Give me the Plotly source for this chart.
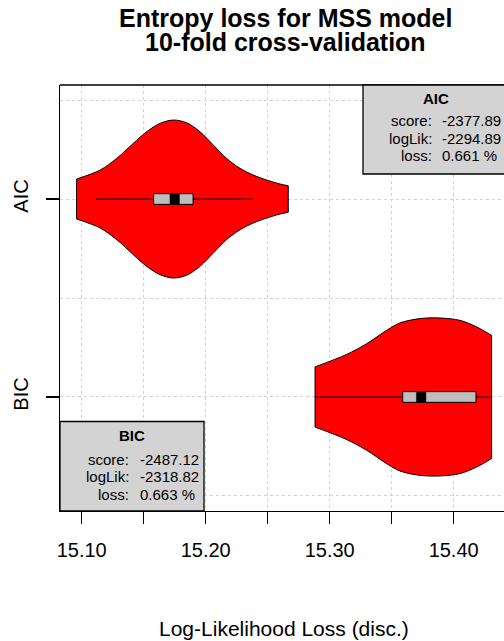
import plotly.graph_objects as go

# ---------------- data ----------------
models = ["AIC", "BIC"]
model_pos = [2, 1]

# violin density profile: x positions and half-widths (in y units)
aic_x = [15.0959, 15.1148, 15.1282, 15.1416, 15.1524, 15.1631, 15.1739, 15.1847,
         15.1954, 15.2061, 15.2169, 15.2277, 15.2384, 15.2492, 15.2599, 15.2666]
aic_hw = [0.101, 0.146, 0.205, 0.281, 0.340, 0.382, 0.399, 0.385,
          0.340, 0.273, 0.205, 0.155, 0.121, 0.096, 0.076, 0.067]

bic_x = [15.2882, 15.3137, 15.3298, 15.3460, 15.3567, 15.3728, 15.3890, 15.4051,
         15.4185, 15.4306]
bic_hw = [0.152, 0.215, 0.269, 0.337, 0.374, 0.396, 0.399, 0.387, 0.354, 0.311]

# box-plot summaries: whisker low, q1, median, q3, whisker high
aic_stats = [15.1112, 15.1580, 15.1750, 15.1898, 15.2376]
bic_stats = [15.2882, 15.3589, 15.3738, 15.4180, 15.4306]

x_tickvals = [15.10, 15.15, 15.20, 15.25, 15.30, 15.35, 15.40]
x_ticktext = ["15.10", "", "15.20", "", "15.30", "", "15.40"]

legend_titles = ["AIC", "BIC"]
legend_labels = ["score:", "logLik:", "loss:"]
aic_legend_values = ["-2377.89", "-2294.89", "0.661 %"]
bic_legend_values = ["-2487.12", "-2318.82", "0.663 %"]

title_lines = ["Entropy loss for MSS model", "10-fold cross-validation"]
x_title = "Log-Likelihood Loss (disc.)"

# ---------------- layout geometry (window pixels) ----------------
W, H = 504, 641
PLOT_L, PLOT_T, PLOT_B = 60, 85, 511
L, T = PLOT_L, PLOT_T
PW = W - L
PH = PLOT_B - PLOT_T
B = H - T - PH
FONT = "Liberation Sans, Arial, Helvetica, sans-serif"


def px(xp):
    return (xp - PLOT_L) / PW


def py(yp):
    return (PLOT_B - yp) / PH


fig = go.Figure()

profiles = [(aic_x, aic_hw, aic_stats), (bic_x, bic_hw, bic_stats)]
box_hh = 0.027
med_hw = 0.0038
for (xs, hws, st), c in zip(profiles, model_pos):
    # lower outline, then upper outline filled down to it
    fig.add_trace(go.Scatter(x=xs, y=[c - h for h in hws], mode="lines",
                             line=dict(color="black", width=1, shape="spline", smoothing=0.9),
                             hoverinfo="skip", showlegend=False))
    fig.add_trace(go.Scatter(x=xs, y=[c + h for h in hws], mode="lines", fill="tonexty",
                             fillcolor="#ff0000",
                             line=dict(color="black", width=1, shape="spline", smoothing=0.9),
                             hoverinfo="skip", showlegend=False))
    # straight ends of the violin
    fig.add_trace(go.Scatter(x=[xs[0], xs[0], None, xs[-1], xs[-1]],
                             y=[c - hws[0], c + hws[0], None, c - hws[-1], c + hws[-1]],
                             mode="lines", line=dict(color="black", width=1),
                             hoverinfo="skip", showlegend=False))
    # whisker line
    fig.add_trace(go.Scatter(x=[st[0], st[4]], y=[c, c], mode="lines",
                             line=dict(color="black", width=1),
                             hoverinfo="skip", showlegend=False))
    # box
    fig.add_trace(go.Scatter(x=[st[1], st[3], st[3], st[1], st[1]],
                             y=[c - box_hh, c - box_hh, c + box_hh, c + box_hh, c - box_hh],
                             mode="lines", fill="toself", fillcolor="#bebebe",
                             line=dict(color="black", width=1),
                             hoverinfo="skip", showlegend=False))
    # median
    fig.add_trace(go.Scatter(x=[st[2] - med_hw, st[2] + med_hw, st[2] + med_hw, st[2] - med_hw, st[2] - med_hw],
                             y=[c - box_hh, c - box_hh, c + box_hh, c + box_hh, c - box_hh],
                             mode="lines", fill="toself", fillcolor="black",
                             line=dict(color="black", width=0.5),
                             hoverinfo="skip", showlegend=False))

shapes = [
    # top frame line
    dict(type="line", xref="paper", yref="paper", x0=0, x1=1.02, y0=1, y1=1,
         line=dict(color="black", width=1.3)),
    # AIC legend box
    dict(type="rect", xref="paper", yref="paper", x0=px(363), x1=1.05, y0=py(174), y1=1,
         fillcolor="#d3d3d3", line=dict(color="black", width=1.3), layer="above"),
    # BIC legend box
    dict(type="rect", xref="paper", yref="paper", x0=0, x1=px(204), y0=0, y1=py(421.5),
         fillcolor="#d3d3d3", line=dict(color="black", width=1.3), layer="above"),
]

annotations = []
for i, line in enumerate(title_lines):
    annotations.append(dict(text="<b>%s</b>" % line, xref="paper", yref="paper",
                            x=px(285), y=py([18.2, 42][i]), xanchor="center", yanchor="middle",
                            showarrow=False, font=dict(size=25, family=FONT, color="black")))
annotations.append(dict(text=x_title, xref="paper", yref="paper", x=px(284), y=py(628),
                        xanchor="center", yanchor="middle", showarrow=False,
                        font=dict(size=21, family=FONT, color="black")))

legend_specs = [
    (legend_titles[0], aic_legend_values, 435.7, 98.3, 434, 440, [120.7, 138.3, 155.7]),
    (legend_titles[1], bic_legend_values, 132, 435, 130.7, 138, [459.5, 476.7, 494]),
]
for title, vals, tx, ty, lx, vxp, rows in legend_specs:
    annotations.append(dict(text="<b>%s</b>" % title, xref="paper", yref="paper",
                            x=px(tx), y=py(ty), xanchor="center", yanchor="middle",
                            showarrow=False, font=dict(size=15, family=FONT, color="black")))
    for lab, val, ry in zip(legend_labels, vals, rows):
        annotations.append(dict(text=lab, xref="paper", yref="paper", x=px(lx), y=py(ry),
                                xanchor="right", yanchor="middle", showarrow=False,
                                font=dict(size=15, family=FONT, color="black")))
        annotations.append(dict(text=val, xref="paper", yref="paper", x=px(vxp), y=py(ry),
                                xanchor="left", yanchor="middle", showarrow=False,
                                font=dict(size=15, family=FONT, color="black")))

grid_style = dict(gridcolor="#d3d3d3", gridwidth=1, griddash="3px,3px")

fig.update_layout(
    width=W, height=H,
    margin=dict(l=L, r=0, t=T, b=B, pad=0),
    paper_bgcolor="white", plot_bgcolor="white",
    font=dict(family=FONT, size=20, color="black"),
    showlegend=False,
    hovermode=False,
    shapes=shapes,
    annotations=annotations,
    xaxis=dict(range=[15.0825, 15.4406], tickvals=x_tickvals, ticktext=x_ticktext,
               ticks="outside", ticklen=12, tickwidth=1.3, tickcolor="black",
               showline=True, linecolor="black", linewidth=1.3, zeroline=False,
               showgrid=True, ticklabelstandoff=9,
               tickfont=dict(size=20, family=FONT, color="black"), **grid_style),
    yaxis=dict(range=[0.424, 2.576], tickvals=model_pos, ticktext=models,
               tickangle=-90, ticks="outside", ticklen=13, tickwidth=1.3, tickcolor="black",
               showline=True, linecolor="black", linewidth=1.3, zeroline=False,
               showgrid=True, ticklabelstandoff=10,
               tickfont=dict(size=20, family=FONT, color="black"),
               minor=dict(tickvals=[0.5, 1.5, 2.5], showgrid=True, ticks="", **grid_style),
               **grid_style),
)

# remove the default page margin so the figure fills the window exactly
fig.write_html("out.html",
               config={"displayModeBar": False, "staticPlot": True},
               post_script="document.body.style.margin='0';"
                           "document.body.style.overflow='hidden';"
                           "document.documentElement.style.overflow='hidden';")
